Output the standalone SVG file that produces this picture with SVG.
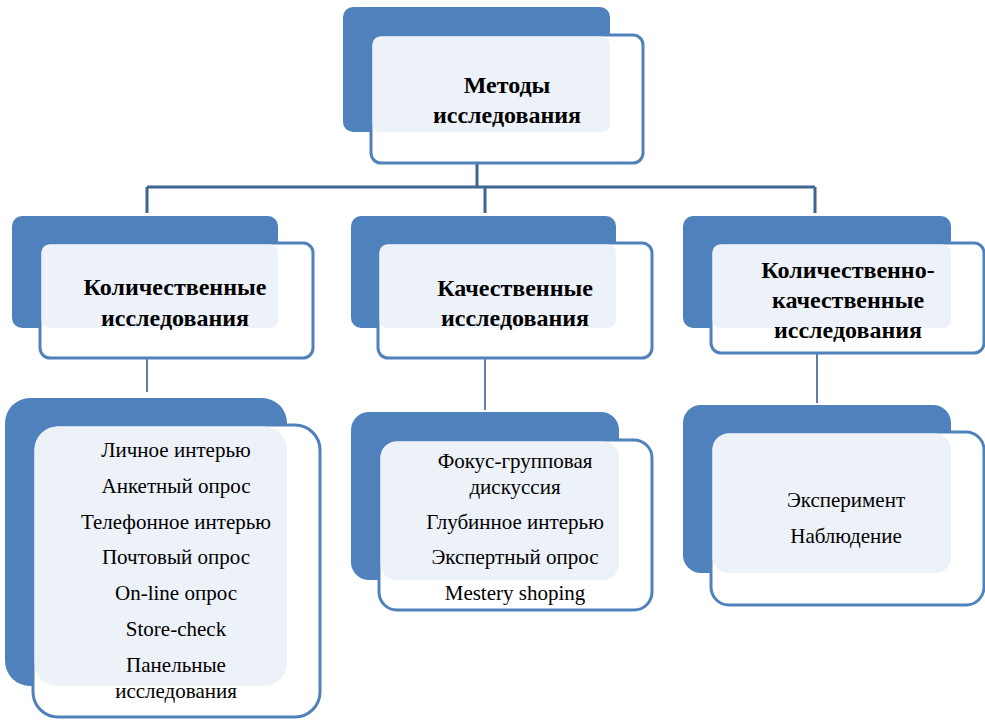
<svg xmlns="http://www.w3.org/2000/svg" width="985" height="722" viewBox="0 0 985 722">
<style>
.dk{fill:#4F81BD}
.lt{fill:#fff;stroke:#4F81BD;stroke-width:3}
.pl{fill:#EDF1F8}
.h{font-family:"Liberation Serif",serif;font-weight:bold;font-size:24px;text-anchor:middle;fill:#000}
.t{font-family:"Liberation Serif",serif;font-size:21px;text-anchor:middle;fill:#000}
.c{fill:none;stroke:#3F6593;stroke-width:3}
.c2{fill:none;stroke:#5B7FA8;stroke-width:2}
</style>
<g id="connectors">
<path class="c" d="M477 135V187M147 187H815M147 187V213M485 187V213M815 187V213"/>
<path class="c2" d="M147 358V392M485 358V410M817 353V403"/>
</g>
<g id="top">
<rect class="dk" x="343" y="7" width="267" height="125" rx="10"/>
<rect class="lt" x="371" y="35" width="272" height="128" rx="10"/>
<rect class="pl" x="372.5" y="36.5" width="237.5" height="95.5" rx="8"/>
<text class="h" x="507" y="93">Методы</text>
<text class="h" x="507" y="123">исследования</text>
</g>
<g id="quant">
<rect class="dk" x="12" y="216" width="266" height="112" rx="10"/>
<rect class="lt" x="40" y="243" width="273" height="115" rx="10"/>
<rect class="pl" x="41.5" y="244.5" width="236.5" height="83.5" rx="8"/>
<text class="h" x="175" y="295">Количественные</text>
<text class="h" x="175" y="326">исследования</text>
</g>
<g id="qual">
<rect class="dk" x="351" y="216" width="265" height="112" rx="10"/>
<rect class="lt" x="378" y="243" width="274" height="115" rx="10"/>
<rect class="pl" x="379.5" y="244.5" width="236.5" height="83.5" rx="8"/>
<text class="h" x="515" y="296">Качественные</text>
<text class="h" x="515" y="326">исследования</text>
</g>
<g id="mixed">
<rect class="dk" x="683" y="216" width="268" height="112" rx="10"/>
<rect class="lt" x="711" y="243" width="273" height="110" rx="10"/>
<rect class="pl" x="712.5" y="244.5" width="238.5" height="83.5" rx="8"/>
<text class="h" x="848" y="278">Количественно-</text>
<text class="h" x="848" y="308">качественные</text>
<text class="h" x="848" y="338">исследования</text>
</g>
<g id="quant-list">
<rect class="dk" x="5" y="398" width="282" height="288" rx="25"/>
<rect class="lt" x="33" y="425" width="287" height="292" rx="25"/>
<rect class="pl" x="34.5" y="426.5" width="252.5" height="259.5" rx="23"/>
<text class="t" x="176" y="457">Личное интерью</text>
<text class="t" x="176" y="493">Анкетный опрос</text>
<text class="t" x="176" y="529">Телефонное интерью</text>
<text class="t" x="176" y="564">Почтовый опрос</text>
<text class="t" x="176" y="600">On-line опрос</text>
<text class="t" x="176" y="636">Store-check</text>
<text class="t" x="176" y="672">Панельные</text>
<text class="t" x="176" y="698">исследования</text>
</g>
<g id="qual-list">
<rect class="dk" x="351" y="412" width="268" height="168" rx="18"/>
<rect class="lt" x="379" y="440" width="273" height="170" rx="18"/>
<rect class="pl" x="380.5" y="441.5" width="238.5" height="138.5" rx="16"/>
<text class="t" x="515" y="468">Фокус-групповая</text>
<text class="t" x="515" y="494">дискуссия</text>
<text class="t" x="515" y="529">Глубинное интерью</text>
<text class="t" x="515" y="564">Экспертный опрос</text>
<text class="t" x="515" y="600">Mestery shoping</text>
</g>
<g id="mixed-list">
<rect class="dk" x="683" y="405" width="268" height="168" rx="18"/>
<rect class="lt" x="711" y="432" width="273" height="173" rx="18"/>
<rect class="pl" x="712.5" y="433.5" width="238.5" height="139.5" rx="16"/>
<text class="t" x="846" y="507">Эксперимент</text>
<text class="t" x="846" y="543">Наблюдение</text>
</g>
</svg>
